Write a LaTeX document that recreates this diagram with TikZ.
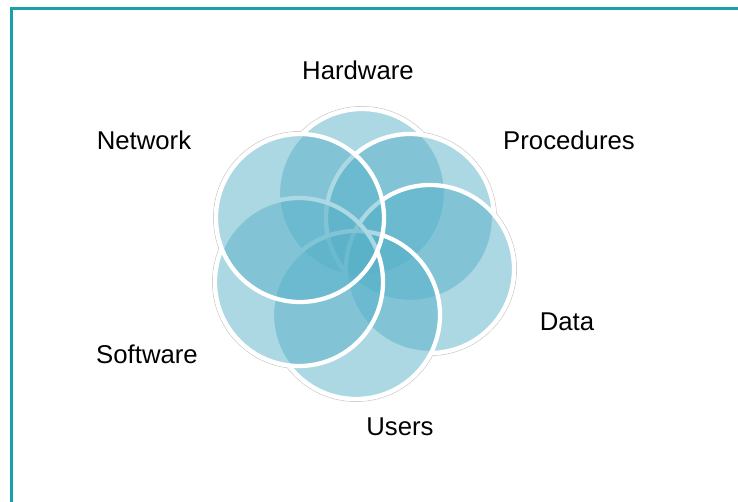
\documentclass[tikz,border=0pt]{standalone}
\usepackage{fontspec}
\setmainfont{Liberation Sans}
\definecolor{framecol}{RGB}{24,160,172}
\definecolor{petalcol}{RGB}{87,177,200}
\definecolor{edgecol}{RGB}{205,205,205}
\begin{document}
\begin{tikzpicture}[x=0.75pt,y=-0.75pt,
  petal/.style={circle, inner sep=0pt, minimum size=126pt, fill=petalcol, fill opacity=0.49, draw=white, draw opacity=1, line width=3.2pt},
  lab/.style={anchor=base, inner sep=0pt, font=\fontsize{19.3}{23}\selectfont, text=black}]
\useasboundingbox (0,0) rectangle (738,502);
\fill[white] (0,0) rectangle (738,502);
% frame (only left and top edges are visible)
\coordinate (fbl) at (11.2,502);
\coordinate (ftl) at (11.2,8.2);
\coordinate (ftr) at (738,8.2);
\draw[framecol, line width=2.1pt] (fbl) -- (ftl) -- (ftr);
% petal centres
\coordinate (cH) at (362,193);
\coordinate (cP) at (410,218);
\coordinate (cD) at (430,269);
\coordinate (cU) at (356,315);
\coordinate (cS) at (299,282);
\coordinate (cN) at (300,218);
% faint grey outer edge of the flower
\foreach \c in {cH,cP,cD,cU,cS,cN}{
  \draw[edgecol, line width=0.6pt] (\c) circle[radius=64.9pt];
}
\foreach \c in {cH,cP,cD,cU,cS,cN}{
  \fill[white] (\c) circle[radius=64.5pt];
}
% petals, in stacking order
\node[petal] (hw) at (cH) {};
\node[petal] (pr) at (cP) {};
\node[petal] (da) at (cD) {};
\node[petal] (us) at (cU) {};
\node[petal] (sw) at (cS) {};
\node[petal] (nw) at (cN) {};
% labels
\node[lab] (lhw) at (358,80) {Hardware};
\node[lab] (lnw) at (144,150) {Network};
\node[lab] (lpr) at (569,150) {Procedures};
\node[lab] (lda) at (567,330) {Data};
\node[lab] (lsw) at (147,363.5) {Software};
\node[lab] (lus) at (400,435) {Users};
\end{tikzpicture}
\end{document}
